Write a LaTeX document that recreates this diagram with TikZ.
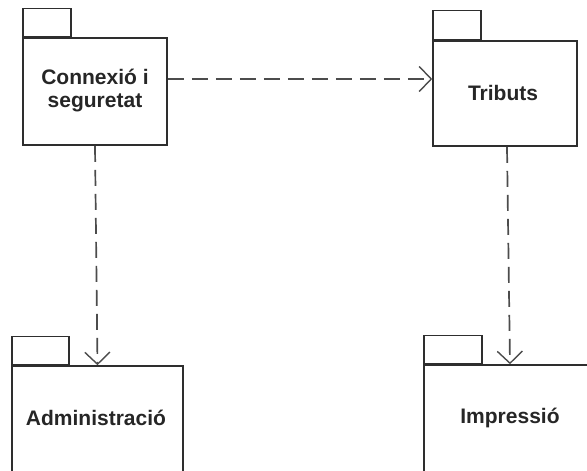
\documentclass[tikz,border=0pt]{standalone}
\usepackage{fontspec}
\setmainfont{Liberation Sans}
\usetikzlibrary{arrows.meta}
\tikzset{
  x=1pt, y=-1pt,
  pkgbody/.style={draw=black!82, line width=1.6pt, fill=white, rectangle, inner sep=0pt},
  pkgtab/.style={draw=black!82, line width=1.6pt, fill=white, rectangle, inner sep=0pt, anchor=south west},
  pkglabel/.style={font=\fontsize{21}{23.5}\selectfont\bfseries, text=black!85, align=center, inner sep=0pt},
  dep/.style={draw=black!70, line width=1.7pt, dash pattern=on 16pt off 8pt,
    -{Straight Barb[length=12pt,width=25pt,line width=1.4pt]}}
}
\begin{document}
\begin{tikzpicture}
\clip (0,0) rectangle (587,471);
\fill[white] (0,0) rectangle (587,471);
% bodies
\node[pkgbody, minimum width=144pt, minimum height=107pt] (b1) at (95,91.5) {};
\node[pkgbody, minimum width=144pt, minimum height=105pt] (b2) at (505,93.5) {};
\node[pkgbody, minimum width=171pt, minimum height=130pt] (b3) at (97.5,431) {};
\node[pkgbody, minimum width=172pt, minimum height=130pt] (b4) at (510,430) {};
% tabs
\node[pkgtab, minimum width=48pt, minimum height=28pt] (t1) at (b1.north west) {};
\node[pkgtab, minimum width=48pt, minimum height=29pt] (t2) at (b2.north west) {};
\node[pkgtab, minimum width=57pt, minimum height=28pt] (t3) at (b3.north west) {};
\node[pkgtab, minimum width=58pt, minimum height=28pt] (t4) at (b4.north west) {};
% labels
\node[pkglabel] (l1) at (95,90.5) {Connexió i\\seguretat};
\node[pkglabel, anchor=base] (l2) at (503,100) {Tributs};
\node[pkglabel, anchor=base] (l3) at (96,425) {Administració};
\node[pkglabel, anchor=base] (l4) at (510,423) {Impressió};
% dependencies
\draw[dep] ([yshift=12.5pt]b1.east) -- ([yshift=14.5pt]b2.west);
\draw[dep] (b1.south) -- (b3.north);
\draw[dep] ([xshift=2pt]b2.south) -- (b4.north);
\end{tikzpicture}
\end{document}
